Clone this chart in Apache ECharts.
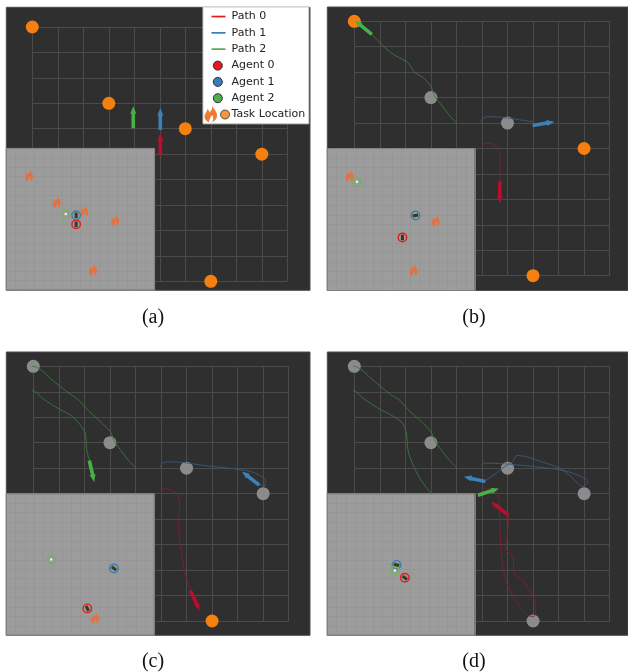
<!DOCTYPE html>
<html><head><meta charset="utf-8">
<style>html,body{margin:0;padding:0;background:#fff}#c{width:628px;height:672px}</style>
<script src="https://cdn.jsdelivr.net/npm/echarts@6/dist/echarts.min.js"></script>
</head><body><div id="c"></div>
<script>
const panelNames = ['(a)', '(b)', '(c)', '(d)'];
const legendLabels = ['Path 0', 'Path 1', 'Path 2', 'Agent 0', 'Agent 1', 'Agent 2', 'Task Location'];
const worldTicks = 10;

// task locations, world units
const taskLocations = [[0,10],[3,7],[6,6],[9,5],[7,0]];
const tasksVisitedA = [0,0,0,0,0];
const tasksVisitedB = [0,1,1,0,0];
const tasksVisitedC = [1,1,1,1,0];
const tasksVisitedD = [1,1,1,1,1];
const legendFlameAt = [7.0,6.6];

// trajectories, world units
const path0A = [];
const path1A = [];
const path2A = [];
const path0B = [[4.99,5.01],[5.08,5.18],[5.28,5.20],[5.54,5.10],[5.69,4.81],[5.71,4.29],[5.70,3.66]];
const path1B = [[4.98,6.02],[5.02,6.16],[5.22,6.25],[5.74,6.23],[6.26,6.16],[7.05,6.04]];
const path2B = [[4.01,5.99],[3.71,6.32],[3.45,6.67],[3.15,7.04],[3.02,7.40],[2.73,7.76],[2.34,8.02],[2.12,8.35],[1.88,8.51],[1.56,8.68],[1.23,8.94],[0.97,9.20],[0.68,9.50]];
const path0C = [[5.0,5.05],[5.10,5.20],[5.29,5.18],[5.62,4.99],[5.73,4.63],[5.69,3.71],[5.82,2.53],[6.01,1.61],[6.17,1.15]];
const path1C = [[4.98,6.03],[5.03,6.17],[5.23,6.25],[5.88,6.22],[6.80,6.09],[7.97,5.96],[8.63,5.83],[9.08,5.52],[9.08,5.31],[8.82,5.35]];
const path2C = [[4.0,6.02],[3.73,6.30],[3.46,6.66],[3.2,7.01],[3.01,7.44],[2.61,7.84],[2.12,8.30],[1.76,8.69],[1.44,8.91],[1.05,9.21],[0.65,9.54],[0.33,9.84],[0,10],[-0.24,9.93],[-0.26,9.61],[-0.30,9.28],[-0.13,9.06],[0.03,9.04],[0.39,8.72],[1.05,8.30],[1.44,8.10],[1.83,7.71],[2.03,7.38],[2.09,6.72],[2.2,6.30]];
const path0D = [[5.02,4.99],[5.15,5.19],[5.41,5.18],[5.61,5.02],[5.67,4.63],[5.70,3.71],[5.76,2.53],[5.93,1.61],[6.26,0.89],[6.78,0.24],[7.02,0.17],[7.11,0.56],[6.92,1.09],[6.59,1.61],[6.26,1.87],[6.22,2.46],[5.93,2.86],[5.99,3.32],[6.04,4.17]];
const path1D = [[4.99,6.09],[5.08,6.2],[5.87,6.17],[6.78,6.09],[8.03,5.94],[8.61,5.78],[9.14,5.48],[8.94,5.28],[8.48,5.68],[8.03,6.0],[7.31,6.26],[6.78,6.44],[6.37,6.5],[6.2,6.26],[5.8,6.0],[5.48,5.74],[5.08,5.49]];
const path2D = [[4.01,6.02],[3.71,6.33],[3.45,6.66],[3.19,7.01],[2.99,7.44],[2.61,7.84],[2.10,8.30],[1.75,8.69],[1.42,8.89],[1.03,9.21],[0.64,9.54],[0.31,9.84],[0,10],[-0.25,9.93],[-0.27,9.61],[-0.31,9.28],[-0.14,9.06],[0.01,9.04],[0.38,8.72],[1.03,8.30],[1.42,8.10],[1.88,7.77],[2.04,7.38],[2.10,6.72],[2.27,6.2],[2.6,5.54],[3.02,4.99]];

// heading arrows: x, y, heading in degrees (world units)
const arrow0A = [5.02,5.38,0];
const arrow1A = [5.02,6.38,0];
const arrow2A = [3.96,6.45,0];
const arrow0B = [5.70,3.28,180];
const arrow1B = [7.41,5.98,-80];
const arrow2B = [0.35,9.76,51];
const arrow0C = [6.33,0.81,-155];
const arrow1C = [8.51,5.60,52];
const arrow2C = [2.29,5.88,-167];
const arrow0D = [5.69,4.42,52];
const arrow1D = [4.71,5.57,78];
const arrow2D = [5.25,5.07,-72];

// inset map view, map cells
const fires1 = [[2.45,12.15],[5.44,9.33],[8.40,8.38],[11.75,7.39],[9.33,2.18]];
const fires2 = [[2.41,12.15],[11.75,7.39],[9.33,2.18]];
const fires3 = [[9.59,1.87]];
const fires4 = [];
const agent0Inset = [[7.53,6.97],[8.14,5.60],[8.76,2.85],[8.40,6.09]];
const agent1Inset = [[7.53,7.92],[9.55,7.92],[11.64,7.08],[7.50,7.46]];
const agent2Inset = [[6.41,8.06],[3.21,11.48],[4.86,8.03],[7.32,6.87]];

const RED='#e41a1c', BLUE='#377eb8', GREEN='#4daf4a', ORANGE='#f57f0f', GREY='#8b8b8b';
const FLAME='path://M12 0C13 6 19 9 18 16C17.5 20 15 22 12 24C14 20 14 17 12 14C10 17 9 19 8 24C4 22 2 18 3 14C4 11 6 10 6 6C8 8 9 10 9 11C11 8 13 5 12 0Z';
const ARROW='path://M1.2,22V7.5H0L3,0L6,7.5H4.8V22Z';

const frames = [
  {box:[6.3,7.3,303.7,283], world:[32.3,27,255,254.3],  inset:[6.3,148.3,148.4,141.9], cap:[148,303]},
  {box:[327.3,7,300.7,283.5], world:[354.3,21.3,255.3,254.4], inset:[327.3,148.5,147.7,142], cap:[469,303]},
  {box:[6.3,352,303.7,283.3], world:[33.3,366.3,255.4,254.7], inset:[6.3,493.7,148,141.6], cap:[148,647]},
  {box:[327.3,352,300.7,283.3], world:[354.3,366.3,255.4,254.7], inset:[327.3,493.7,147.7,141.6], cap:[469,647]}
];
const paths = [[path0A,path1A,path2A],[path0B,path1B,path2B],[path0C,path1C,path2C],[path0D,path1D,path2D]];
const arrows = [[arrow0A,arrow1A,arrow2A],[arrow0B,arrow1B,arrow2B],[arrow0C,arrow1C,arrow2C],[arrow0D,arrow1D,arrow2D]];
const visited = [tasksVisitedA,tasksVisitedB,tasksVisitedC,tasksVisitedD];
const fires = [fires1,fires2,fires3,fires4];
const agentsInset = [agent0Inset,agent1Inset,agent2Inset];

const colors=[RED,BLUE,GREEN];
const pathColors=['#7f2030','#3a5a7c','#3c783c'];
const arrowColors=['#b5102c','#3b82ba','#48b048'];
const grids=[],xAxes=[],yAxes=[],series=[],titles=[],graphics=[];
const hidden={axisLine:{show:false},axisTick:{show:false},axisLabel:{show:false}};

frames.forEach((f,p)=>{
  graphics.push({type:'rect',z:-1,shape:{x:f.box[0],y:f.box[1],width:f.box[2],height:f.box[3]},style:{fill:'#2f2f2f',stroke:'#4a4a4a',lineWidth:1}});
  grids.push({left:f.world[0],top:f.world[1],width:f.world[2],height:f.world[3],z:0});
  xAxes.push({type:'value',gridIndex:p*2,min:0,max:worldTicks,interval:1,z:0,...hidden,splitLine:{show:true,lineStyle:{color:'#4b4b4b',width:1}}});
  yAxes.push({type:'value',gridIndex:p*2,min:0,max:worldTicks,interval:1,z:0,...hidden,splitLine:{show:true,lineStyle:{color:'#4b4b4b',width:1}}});
  grids.push({left:f.inset[0],top:f.inset[1],width:f.inset[2],height:f.inset[3],z:1,show:true,backgroundColor:'#9c9c9c',borderColor:'#555',borderWidth:1});
  xAxes.push({type:'value',gridIndex:p*2+1,min:0,max:16,interval:1,z:2,...hidden,splitLine:{show:true,lineStyle:{color:'#949494',width:0.7}}});
  yAxes.push({type:'value',gridIndex:p*2+1,min:0,max:15,interval:1,z:2,...hidden,splitLine:{show:true,lineStyle:{color:'#949494',width:0.7}}});
  titles.push({text:panelNames[p],left:f.cap[0],top:f.cap[1],textAlign:'center',textStyle:{fontFamily:'Liberation Serif',fontSize:20,fontWeight:'normal',color:'#111'}});
  const w=p*2, ins=p*2+1;
  series.push({type:'scatter',name:'Task Location',xAxisIndex:w,yAxisIndex:w,z:3,clip:false,symbol:'circle',symbolSize:13,silent:true,
    data:taskLocations.map((t,i)=>({value:t,itemStyle:{color:visited[p][i]?GREY:ORANGE,opacity:1}}))});
  [0,1,2].forEach(k=>{
    series.push({type:'line',name:'Path '+k,xAxisIndex:w,yAxisIndex:w,z:4,clip:false,showSymbol:false,symbol:'none',smooth:0.3,silent:true,
      lineStyle:{color:pathColors[k],width:0.9},itemStyle:{color:colors[k]},data:paths[p][k]});
    series.push({type:'scatter',name:'Heading '+k,xAxisIndex:w,yAxisIndex:w,z:5,clip:false,symbol:ARROW,symbolKeepAspect:false,symbolSize:[6,22],silent:true,
      symbolRotate:arrows[p][k][2],itemStyle:{color:arrowColors[k],opacity:1},data:[arrows[p][k].slice(0,2)]});
    series.push({type:'scatter',name:'Agent '+k,xAxisIndex:ins,yAxisIndex:ins,z:6,clip:false,symbol:'circle',symbolSize:8.5,silent:true,
      itemStyle:{color:'rgba(150,150,150,0.2)',borderColor:k===2?'#74b45a':colors[k],borderWidth:1.4,opacity:1},data:[agentsInset[k][p]]});
    series.push({type:'scatter',name:'Agent mark '+k,xAxisIndex:ins,yAxisIndex:ins,z:7,clip:false,silent:true,
      symbol:k===2?'circle':'rect',symbolSize:k===2?[2.5,2.5]:[3,5.5],symbolRotate:arrows[p][k][2],
      itemStyle:{color:k===2?'#f4f4f4':'#3a3a22',opacity:1},data:[agentsInset[k][p]]});
  });
  series.push({type:'scatter',name:'Fire',xAxisIndex:ins,yAxisIndex:ins,z:5,clip:false,symbol:FLAME,symbolKeepAspect:false,symbolSize:[8,12.5],silent:true,
    itemStyle:{color:'#e8703a',opacity:1},data:fires[p]});
});
series.push({type:'scatter',name:'Legend flame',xAxisIndex:0,yAxisIndex:0,z:20,clip:false,symbol:FLAME,symbolKeepAspect:false,symbolSize:[12.5,17.5],silent:true,
  itemStyle:{color:'#ee7a33',opacity:1},data:[legendFlameAt]});

const pad=' M0,0L0,0 M24,10L24,10';
const lineIcon='path://M6,4.2H20V5.9H6Z'+pad;
const dotIcon='path://M7.8,5.2a4.5,4.5 0 1,0 9,0a4.5,4.5 0 1,0 -9,0Z'+pad;
const taskIcon='path://M15.2,5.2a4.5,4.5 0 1,0 9,0a4.5,4.5 0 1,0 -9,0Z'+pad;
const edge={borderColor:'#2b2b3a',borderWidth:1};
const legendData=[
  {name:legendLabels[0],icon:lineIcon,itemStyle:{color:RED,borderWidth:0}},
  {name:legendLabels[1],icon:lineIcon,itemStyle:{color:BLUE,borderWidth:0}},
  {name:legendLabels[2],icon:lineIcon,itemStyle:{color:GREEN,borderWidth:0}},
  {name:legendLabels[3],icon:dotIcon,itemStyle:{color:RED,...edge}},
  {name:legendLabels[4],icon:dotIcon,itemStyle:{color:BLUE,...edge}},
  {name:legendLabels[5],icon:dotIcon,itemStyle:{color:GREEN,...edge}},
  {name:legendLabels[6],icon:taskIcon,itemStyle:{color:ORANGE,...edge}}
];

const chart=echarts.init(document.getElementById('c'),null,{renderer:'canvas',width:628,height:672});
chart.setOption({
  animation:false,
  backgroundColor:'#ffffff',
  title:titles,
  grid:grids,xAxis:xAxes,yAxis:yAxes,series,
  graphic:graphics,
  tooltip:{show:false},
  legend:{show:true,orient:'vertical',left:203,top:7,z:15,selectedMode:false,
    padding:[3,3.5,3,2],itemGap:3.3,itemWidth:24,itemHeight:12,
    backgroundColor:'#fff',borderColor:'#ccc',borderWidth:1,
    textStyle:{fontFamily:'DejaVu Sans',fontSize:11,lineHeight:13,color:'#222',padding:[0,0,0,-3]},
    data:legendData}
});
</script></body></html>
